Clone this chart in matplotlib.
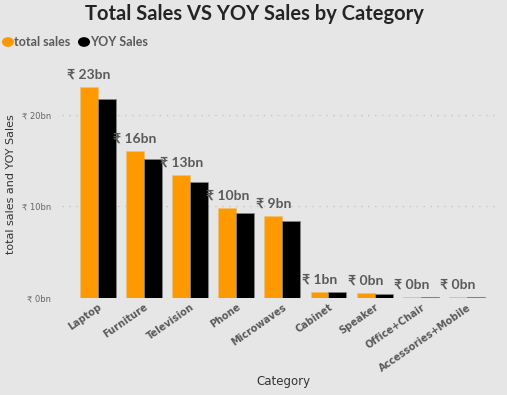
import numpy as np
import matplotlib.pyplot as plt
import matplotlib.transforms as mtrans

plt.rcParams['font.family'] = ['DejaVu Sans']
narrow = ['Lato', 'DejaVu Sans']

categories = ['Laptop', 'Furniture', 'Television', 'Phone', 'Microwaves',
              'Cabinet', 'Speaker', 'Office+Chair', 'Accessories+Mobile']
total_sales = [23.05, 16.05, 13.4, 9.8, 8.95, 0.65, 0.5, 0.1, 0.08]
yoy_sales = [21.7, 15.2, 12.65, 9.3, 8.45, 0.65, 0.45, 0.1, 0.08]
value_labels = ['₹ 23bn', '₹ 16bn', '₹ 13bn', '₹ 10bn', '₹ 9bn',
                '₹ 1bn', '₹ 0bn', '₹ 0bn', '₹ 0bn']
yticks = [0, 10, 20]
ytick_labels = ['₹ 0bn', '₹ 10bn', '₹ 20bn']

bg = '#e6e6e6'
orange = '#ff9900'
grey = '#5a5a5a'

fig = plt.figure(figsize=(5.07, 3.95), dpi=100, facecolor=bg)
ax = fig.add_axes([62/507, 97/395, 438/507, 228/395], facecolor=bg)

x = np.arange(len(categories))
w = 0.39
ax.bar(x - w/2, total_sales, w, color=orange, edgecolor='#f0c070', linewidth=0.5, zorder=3)
ax.bar(x + w/2, yoy_sales, w, color='black', edgecolor='#888888', linewidth=0.5, zorder=3)

for xi, v, lab in zip(x, total_sales, value_labels):
    ax.text(xi - w/2, v + 0.7, lab, ha='center', va='bottom', fontsize=10,
            fontweight='bold', color=grey, family=narrow, zorder=4)

ax.set_xlim(-0.78, 8.72)
ax.set_ylim(0, 24.9)
ax.set_yticks(yticks)
ax.set_yticklabels(ytick_labels, fontsize=6, color='#666666')
ax.set_xticks(x)
ax.set_xticklabels(categories, rotation=35, ha='right', rotation_mode='anchor',
                   fontsize=7, fontweight='bold', color=grey)
shift = mtrans.ScaledTranslation(-5/100, 0, fig.dpi_scale_trans)
for t in ax.get_xticklabels():
    t.set_transform(t.get_transform() + shift)
ax.tick_params(length=0)
ax.tick_params(axis='x', pad=3)
ax.tick_params(axis='y', pad=8)
ax.grid(axis='y', linestyle=(0, (1, 4)), color='#c8c8c8', linewidth=1, zorder=0)
for s in ax.spines.values():
    s.set_visible(False)

ax.set_ylabel('total sales and YOY Sales', fontsize=8, color='#333333')
ax.yaxis.set_label_coords(-0.105, 0.5)
fig.text(283/507, 1 - 381/395, 'Category', ha='center', va='center',
         fontsize=8.5, color='#333333')

fig.text(254/507, 1 - 14/395, 'Total Sales VS YOY Sales by Category', ha='center',
         va='center', fontsize=14.5, fontweight='bold', color='#252423', family=narrow)

# legend
fig.patches.append(plt.Circle((8/507, 1 - 42/395), 0.0105, transform=fig.transFigure,
                              color=orange, figure=fig))
fig.text(14/507, 1 - 42/395, 'total sales', ha='left', va='center', fontsize=9,
         fontweight='bold', color=grey, family=narrow)
fig.patches.append(plt.Circle((84/507, 1 - 42/395), 0.0105, transform=fig.transFigure,
                              color='black', figure=fig))
fig.text(90/507, 1 - 42/395, 'YOY Sales', ha='left', va='center', fontsize=9,
         fontweight='bold', color=grey, family=narrow)

fig.savefig('out.png', dpi=100, facecolor=bg)
